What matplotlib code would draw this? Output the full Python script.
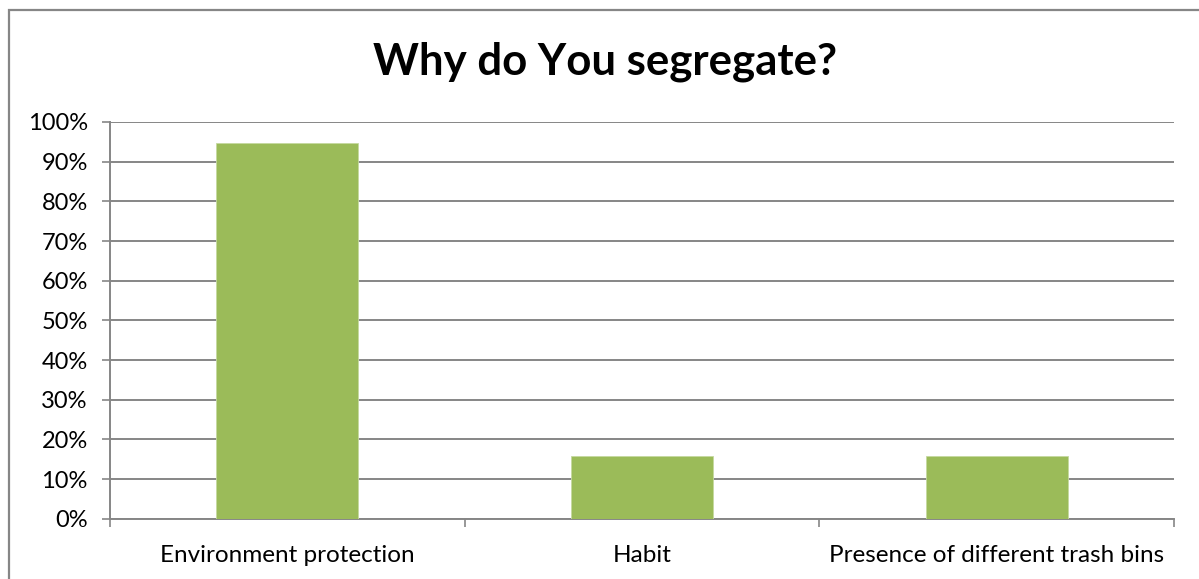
import matplotlib.pyplot as plt
from matplotlib.patches import Rectangle
from matplotlib.ticker import MultipleLocator, FuncFormatter

categories = ["Environment protection", "Habit", "Presence of different trash bins"]
shares = [94.7, 15.8, 15.8]
title = "Why do You segregate?"

W, H = 1199, 579
fig = plt.figure(figsize=(W / 100, H / 100), dpi=100)
plt.rcParams['font.family'] = ['Lato', 'DejaVu Sans']

grey = "#868686"
bar_color = "#9BBB59"

ax = fig.add_axes([110 / W, 1 - 518.7 / H, (1174 - 110) / W, (518.7 - 122) / H])

x = range(len(categories))
ax.bar(x, shares, width=0.4, color=bar_color, edgecolor="#c5d9a0", linewidth=0.6, zorder=3)

ax.set_xlim(-0.5, len(categories) - 0.5)
ax.set_ylim(0, 100)
ax.yaxis.set_major_locator(MultipleLocator(10))
ax.yaxis.set_major_formatter(FuncFormatter(lambda v, _: f"{int(round(v))}%"))
ax.grid(axis="y", color=grey, linewidth=1.4, zorder=0)

ax.set_xticks([i - 0.5 for i in range(len(categories) + 1)], minor=False)
ax.set_xticklabels([])
ax.set_xticks(list(x), minor=True)
ax.set_xticklabels(categories, minor=True)
ax.tick_params(axis="x", which="major", direction="out", length=6, width=1.2, color=grey)
ax.tick_params(axis="x", which="minor", length=0, pad=19, labelsize=17.5)
ax.tick_params(axis="y", direction="out", length=6, width=1.2, color=grey, labelsize=17, pad=10)

for side in ("top", "right"):
    ax.spines[side].set_visible(False)
for side in ("left", "bottom"):
    ax.spines[side].set_color(grey)
    ax.spines[side].set_linewidth(1.4)

fig.text(605 / W, 1 - 62 / H, title, ha="center", va="center",
         fontsize=31.5, fontweight="bold")

# chart frame, open towards the right and bottom edges
fig.add_artist(Rectangle((8.5 / W, -0.05), 1.1, 1.05 - 9.5 / H, transform=fig.transFigure,
                         fill=False, edgecolor=grey, linewidth=1.6))

fig.savefig("out.png", dpi=100)
